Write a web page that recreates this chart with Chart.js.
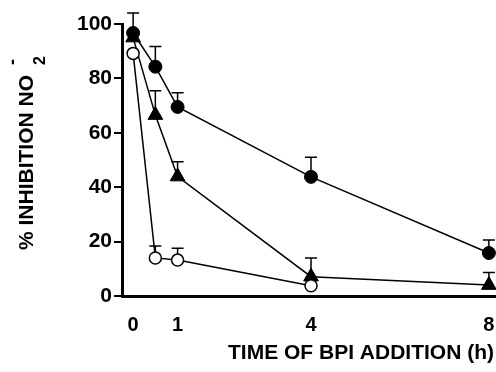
<!DOCTYPE html>
<html>
<head>
<meta charset="utf-8">
<script src="https://cdn.jsdelivr.net/npm/chart.js@4"></script>
<style>
  body { margin: 0; background: #fff; }
  #wrap { width: 496px; height: 372px; }
</style>
</head>
<body>
<div id="wrap"><canvas id="chart"></canvas></div>
<script>
// time of BPI addition (h)
let hours = [0, 0.5, 1, 4, 8];
let openHours = [0, 0.5, 1, 4];

// % inhibition of NO2-
let filledVals = [96.7, 84.3, 69.5, 43.8, 15.8];
let filledErr  = [104, 91.7, 74.7, 51, 20.6];   // top of error bar
let triVals    = [95, 66.5, 43.9, 7.1, 4];
let triErr     = [null, 75.5, 49.4, 14, 8.6];
let openVals   = [89.2, 14, 13.2, 3.8];
let openErr    = [null, 18.4, 17.6, null];

let xTicks = [0, 1, 4, 8];
let yTicks = [0, 20, 40, 60, 80, 100];

const FONT = '"Liberation Sans", Arial, sans-serif';

function pts(xs, ys) {
    return xs.map((x, i) => ({ x: x, y: ys[i] }));
}

// upper error bars with a cap, drawn under the markers
const errorBars = {
    id: 'errorBars',
    beforeDatasetsDraw(chart) {
        let ctx = chart.ctx;
        let xs = chart.scales.x, ys = chart.scales.y;
        ctx.save();
        ctx.strokeStyle = '#000';
        ctx.lineWidth = 1.5;
        chart.data.datasets.forEach(ds => {
            ds.data.forEach((p, i) => {
                let top = ds.errTop[i];
                if (top == null) return;
                let px = xs.getPixelForValue(p.x);
                let py = ys.getPixelForValue(p.y);
                let pt = ys.getPixelForValue(top);
                ctx.beginPath();
                ctx.moveTo(px, py);
                ctx.lineTo(px, pt);
                ctx.moveTo(px - 6, pt);
                ctx.lineTo(px + 6, pt);
                ctx.stroke();
            });
        });
        ctx.restore();
    }
};

// axis titles (y title needs a superscript and a subscript)
const titles = {
    id: 'titles',
    afterDraw(chart) {
        let ctx = chart.ctx;
        ctx.save();
        ctx.fillStyle = '#000';
        ctx.font = 'bold 21px ' + FONT;
        ctx.textAlign = 'center';
        ctx.textBaseline = 'middle';
        ctx.fillText('TIME OF BPI ADDITION (h)', 361, 353);

        ctx.translate(33, 250);
        ctx.rotate(-Math.PI / 2);
        ctx.textAlign = 'left';
        ctx.textBaseline = 'alphabetic';
        ctx.fillText('% INHIBITION NO', 0, 0);
        let w = ctx.measureText('% INHIBITION NO').width;
        ctx.font = 'bold 18px ' + FONT;
        ctx.fillText('-', w + 10, -15);
        ctx.font = 'bold 16px ' + FONT;
        ctx.fillText('2', w + 10, 12);
        ctx.restore();
    }
};

let chart = new Chart(document.getElementById('chart'), {
    type: 'line',
    data: {
        datasets: [
            {
                data: pts(openHours, openVals),
                errTop: openErr,
                borderColor: '#000',
                borderWidth: 1.5,
                pointStyle: 'circle',
                pointRadius: 6,
                pointBackgroundColor: '#fff',
                pointBorderColor: '#000',
                pointBorderWidth: 1.5,
                clip: false
            },
            {
                data: pts(hours, triVals),
                errTop: triErr,
                borderColor: '#000',
                borderWidth: 1.5,
                pointStyle: 'triangle',
                pointRadius: 8.5,
                pointBackgroundColor: '#000',
                pointBorderColor: '#000',
                pointBorderWidth: 1,
                clip: false
            },
            {
                data: pts(hours, filledVals),
                errTop: filledErr,
                borderColor: '#000',
                borderWidth: 1.5,
                pointStyle: 'circle',
                pointRadius: 6.5,
                pointBackgroundColor: '#000',
                pointBorderColor: '#000',
                pointBorderWidth: 1,
                clip: false
            }
        ]
    },
    options: {
        responsive: true,
        maintainAspectRatio: false,
        animation: false,
        layout: { autoPadding: false, padding: { top: 24, left: 0, right: 0, bottom: 0 } },
        plugins: {
            legend: { display: false },
            tooltip: { enabled: false }
        },
        scales: {
            x: {
                type: 'linear',
                min: -0.25,
                max: 8.16,
                afterBuildTicks: s => { s.ticks = xTicks.map(v => ({ value: v })); },
                afterFit: s => { s.height = 76; s.paddingLeft = 0; s.paddingRight = 0; },
                grid: { display: false },
                border: { display: true, color: '#000', width: 3 },
                ticks: {
                    color: '#000',
                    padding: 9,
                    maxRotation: 0,
                    font: { family: FONT, size: 20, weight: 'bold' }
                }
            },
            y: {
                min: 0,
                max: 100,
                afterBuildTicks: s => { s.ticks = yTicks.map(v => ({ value: v })); },
                afterFit: s => { s.width = 122; s.paddingTop = 0; s.paddingBottom = 0; },
                grid: { drawOnChartArea: false, drawTicks: true, tickLength: 8, color: '#000', lineWidth: 2 },
                border: { display: true, color: '#000', width: 3 },
                ticks: {
                    color: '#000',
                    padding: 2,
                    font: { family: FONT, size: 21, weight: 'bold' }
                }
            }
        }
    },
    plugins: [errorBars, titles]
});
</script>
</body>
</html>
